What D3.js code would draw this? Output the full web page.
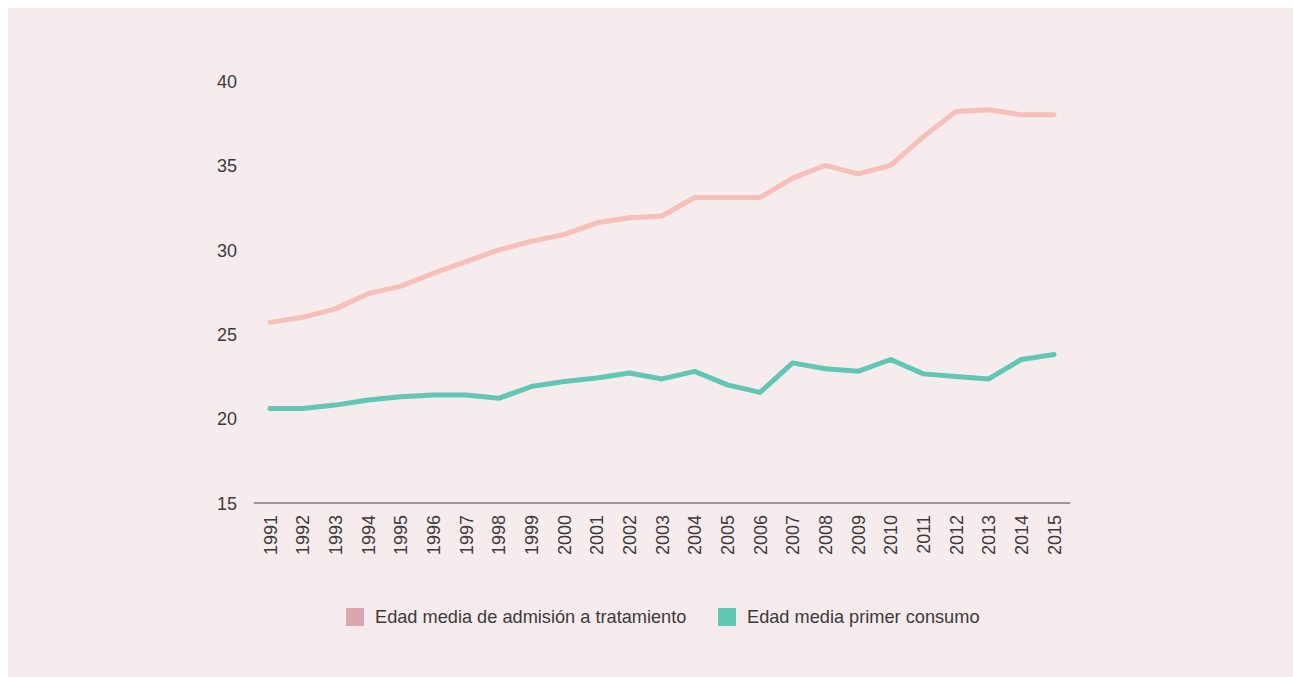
<!DOCTYPE html>
<html>
<head>
<meta charset="utf-8">
<script src="https://cdn.jsdelivr.net/npm/d3@7"></script>
<style>
  html, body { margin: 0; padding: 0; background: #ffffff; }
  svg { display: block; }
</style>
</head>
<body>
<svg id="chart" width="1293" height="677"></svg>
<script>
const years = [1991,1992,1993,1994,1995,1996,1997,1998,1999,2000,2001,2002,2003,2004,2005,2006,2007,2008,2009,2010,2011,2012,2013,2014,2015];
const edadAdmision = [25.7,26.0,26.5,27.4,27.85,28.6,29.3,30.0,30.5,30.9,31.6,31.9,32.0,33.1,33.1,33.1,34.25,35.0,34.5,35.0,36.7,38.2,38.3,38.0,38.0];
const edadPrimerConsumo = [20.6,20.6,20.8,21.1,21.3,21.4,21.4,21.2,21.9,22.2,22.4,22.7,22.35,22.8,22.0,21.55,23.3,22.95,22.8,23.5,22.65,22.5,22.35,23.5,23.8];
const yTicks = [15,20,25,30,35,40];
const seriesNames = ["Edad media de admisión a tratamiento", "Edad media primer consumo"];
const lineColors = ["#f8bfb8", "#62c6b5"];
const legendColors = ["#d9a7ad", "#62c6b5"];

const svg = d3.select("#chart");
const font = "'Liberation Sans', Arial, Helvetica, sans-serif";
const textColor = "#3d3a3b";

// panel background
svg.append("rect").attr("x", 8).attr("y", 8).attr("width", 1285).attr("height", 669).attr("fill", "#f5eaec");
svg.append("rect").attr("x", 196).attr("y", 45).attr("width", 900).attr("height", 532).attr("fill", "#f6ebed");

const x = d3.scaleLinear().domain([1991, 2015]).range([270, 1054]);
const y = d3.scaleLinear().domain([15, 40]).range([503, 81]);

// y axis
const yAxis = svg.append("g").attr("transform", "translate(237,0)")
  .call(d3.axisLeft(y).tickValues(yTicks).tickSize(0).tickPadding(0).tickFormat(d3.format("d")));
yAxis.select(".domain").remove();
yAxis.selectAll("text").attr("font-family", font).attr("font-size", 18).attr("fill", textColor).attr("dy", "0.35em");

// x axis baseline
svg.append("line")
  .attr("x1", x(1990.5)).attr("x2", x(2015.5))
  .attr("y1", y(15)).attr("y2", y(15))
  .attr("stroke", "#9b9899").attr("stroke-width", 2);

// x axis labels
const xAxis = svg.append("g").attr("transform", `translate(0,${y(15)})`)
  .call(d3.axisBottom(x).tickValues(years).tickSize(0).tickFormat(d3.format("d")));
xAxis.select(".domain").remove();
xAxis.selectAll("text")
  .attr("font-family", font).attr("font-size", 18).attr("fill", textColor)
  .attr("text-anchor", "end")
  .attr("transform", "translate(0,12) rotate(-90)")
  .attr("x", 0).attr("y", 0).attr("dy", "0.35em");

// lines
const line = d3.line().x((d, i) => x(years[i])).y(d => y(d));
[edadAdmision, edadPrimerConsumo].forEach((s, k) => {
  svg.append("path").datum(s)
    .attr("d", line)
    .attr("fill", "none")
    .attr("stroke", lineColors[k])
    .attr("stroke-width", 5)
    .attr("stroke-linejoin", "round")
    .attr("stroke-linecap", "round");
});

// legend
const legendX = [346, 718];
seriesNames.forEach((name, k) => {
  const g = svg.append("g").attr("transform", `translate(${legendX[k]},608)`);
  g.append("rect").attr("width", 18).attr("height", 18).attr("fill", legendColors[k]);
  g.append("text").attr("x", 29).attr("y", 9).attr("dy", "0.35em")
    .attr("font-family", font).attr("font-size", 18.2).attr("fill", textColor)
    .text(name);
});
</script>
</body>
</html>
